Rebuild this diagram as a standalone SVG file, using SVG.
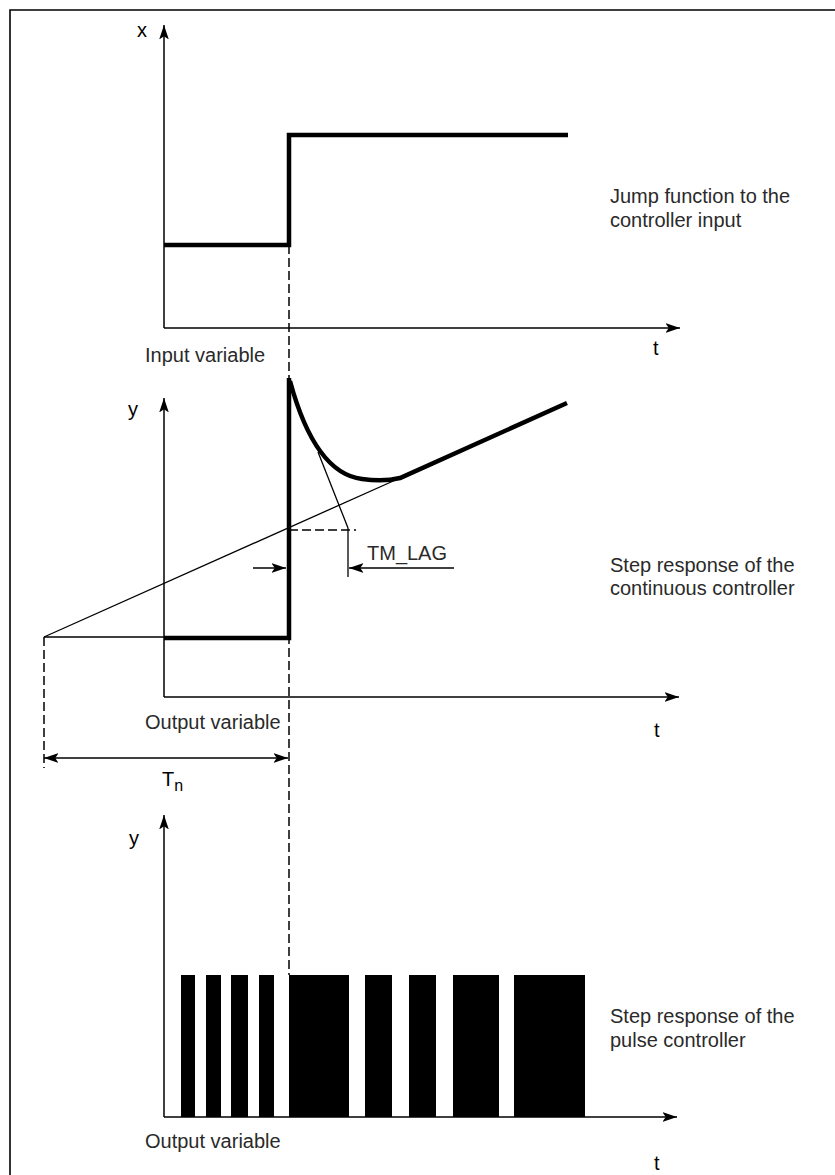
<svg xmlns="http://www.w3.org/2000/svg" width="835" height="1175" viewBox="0 0 835 1175">
  <style>
    .txt { font-family: "Liberation Sans", Arial, sans-serif; font-size: 20px; fill: #2a2a2a; }
    .sym { font-family: "Liberation Sans", Arial, sans-serif; font-size: 20px; fill: #000; }
    .axis { stroke: #000; stroke-width: 1.5; fill: none; }
    .thin { stroke: #000; stroke-width: 1.3; fill: none; }
    .thick { stroke: #000; stroke-width: 4.5; fill: none; stroke-linejoin: miter; }
    .dash { stroke: #000; stroke-width: 1.5; fill: none; stroke-dasharray: 9 4; }
    .bar { fill: #000; }
  </style>
  <defs>
    <marker id="arr" markerUnits="userSpaceOnUse" markerWidth="15" markerHeight="11" viewBox="0 0 14 10" refX="13.5" refY="5" orient="auto-start-reverse">
      <path d="M0,0.5 L13.5,5 L0,9.5 L3,5 z" fill="#000"/>
    </marker>
  </defs>

  <rect width="835" height="1175" fill="#fff"/>
  <g id="frame">
    <path d="M10,1175 L10,10 L835,10" stroke="#000" stroke-width="1.6" fill="none"/>
  </g>

  <g id="connectors">
    <line class="dash" x1="289" y1="245" x2="289" y2="975"/>
    <line class="dash" x1="44" y1="637" x2="44" y2="768"/>
    <line class="dash" x1="289" y1="530" x2="356" y2="530"/>
    <line class="thin" x1="44" y1="758" x2="288" y2="758" marker-start="url(#arr)" marker-end="url(#arr)"/>
    <line class="thin" x1="253" y1="568" x2="286" y2="568" marker-end="url(#arr)"/>
    <line class="thin" x1="454" y1="568" x2="349" y2="568" marker-end="url(#arr)"/>
  </g>

  <g id="panel-input">
    <line class="axis" x1="164" y1="328" x2="164" y2="25" marker-end="url(#arr)"/>
    <line class="axis" x1="164" y1="328" x2="680" y2="328" marker-end="url(#arr)"/>
    <polyline class="thick" points="164,245 289,245 289,135 568,135"/>
    <text class="sym" x="137" y="37">x</text>
    <text class="sym" x="653" y="355">t</text>
    <text class="txt" x="145" y="362">Input variable</text>
    <text class="txt" x="610" y="203">Jump function to the</text>
    <text class="txt" x="610" y="227">controller input</text>
  </g>

  <g id="panel-continuous">
    <line class="axis" x1="164" y1="697" x2="164" y2="398" marker-end="url(#arr)"/>
    <line class="axis" x1="164" y1="697" x2="679" y2="697" marker-end="url(#arr)"/>
    <line class="thin" x1="44" y1="637" x2="164" y2="637"/>
    <line class="thin" x1="44" y1="637" x2="400" y2="478"/>
    <polyline class="thick" points="164,638 289,638 289,378"/>
    <path class="thick" d="M290,381 C306,440 330,475 362,479 C376,481 388,481 400,478 L567,403"/>
    <line class="thin" x1="318" y1="452" x2="348" y2="528"/>
    <line class="thin" x1="348" y1="528" x2="348" y2="577"/>
    <text class="sym" x="128" y="416">y</text>
    <text class="sym" x="654" y="737">t</text>
    <text class="txt" x="367" y="560">TM_LAG</text>
    <text class="txt" x="145" y="729">Output variable</text>
    <text class="txt" x="610" y="572">Step response of the</text>
    <text class="txt" x="610" y="595">continuous controller</text>
    <text class="sym" x="162" y="786">T<tspan font-size="16" dy="5">n</tspan></text>
  </g>

  <g id="panel-pulse">
    <line class="axis" x1="164" y1="1117" x2="164" y2="815" marker-end="url(#arr)"/>
    <line class="axis" x1="164" y1="1117" x2="677" y2="1117" marker-end="url(#arr)"/>
    <rect class="bar" x="181" y="975" width="14" height="142"/>
    <rect class="bar" x="206" y="975" width="15" height="142"/>
    <rect class="bar" x="231" y="975" width="17" height="142"/>
    <rect class="bar" x="259" y="975" width="15" height="142"/>
    <rect class="bar" x="289" y="975" width="60" height="142"/>
    <rect class="bar" x="365" y="975" width="27" height="142"/>
    <rect class="bar" x="409" y="975" width="27" height="142"/>
    <rect class="bar" x="453" y="975" width="46" height="142"/>
    <rect class="bar" x="514" y="975" width="71" height="142"/>
    <text class="sym" x="129" y="845">y</text>
    <text class="sym" x="654" y="1170">t</text>
    <text class="txt" x="145" y="1148">Output variable</text>
    <text class="txt" x="610" y="1023">Step response of the</text>
    <text class="txt" x="610" y="1047">pulse controller</text>
  </g>
</svg>
